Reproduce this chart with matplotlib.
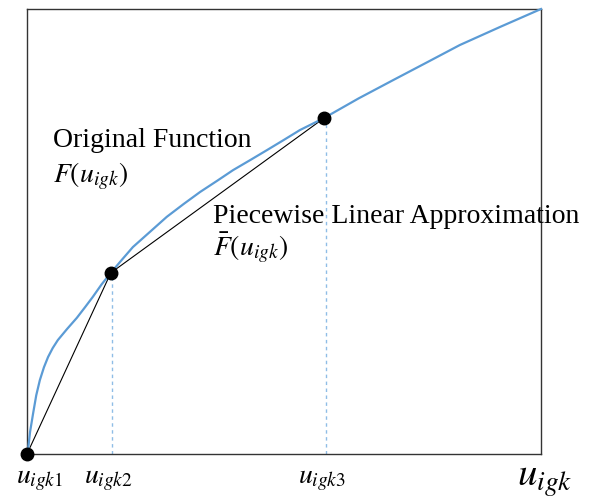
import matplotlib
matplotlib.use("Agg")
import matplotlib.pyplot as plt
from matplotlib.transforms import ScaledTranslation

plt.rcParams['mathtext.fontset'] = 'stix'

# Original function F(u) (normalized axes 0..1)
curve_x = [0.0, 0.002, 0.006, 0.012, 0.018, 0.025, 0.033, 0.041, 0.050, 0.060,
           0.078, 0.097, 0.113, 0.128, 0.145, 0.163, 0.185, 0.206, 0.240, 0.272,
           0.305, 0.337, 0.370, 0.401, 0.435, 0.467, 0.500, 0.531, 0.578, 0.645,
           0.712, 0.778, 0.842, 0.921, 1.0]
curve_y = [0.0, 0.009, 0.050, 0.092, 0.132, 0.166, 0.195, 0.218, 0.238, 0.256,
           0.281, 0.306, 0.330, 0.353, 0.381, 0.407, 0.437, 0.465, 0.500, 0.533,
           0.562, 0.589, 0.614, 0.638, 0.661, 0.683, 0.706, 0.728, 0.755, 0.799,
           0.840, 0.880, 0.919, 0.960, 1.0]

# Breakpoints of the piecewise linear approximation
break_x = [0.0, 0.163, 0.578]
break_y = [0.0, 0.407, 0.755]
break_labels = [r'$u_{igk1}$', r'$u_{igk2}$', r'$u_{igk3}$']
axis_label = r'$u_{igk}$'

fig = plt.figure(figsize=(5.9, 4.99), dpi=100)
ax = fig.add_axes([27/590, 45/499, (541-27)/590, (454-9)/499])
ax.set_xlim(0, 1)
ax.set_ylim(0, 1)

blue = '#5b9bd5'
ax.plot(curve_x, curve_y, color=blue, lw=1.6, zorder=3, clip_on=False,
        solid_joinstyle='round')
ax.plot(break_x, break_y, color='black', lw=0.8, zorder=2, clip_on=False)
for bx, by in zip(break_x[1:], break_y[1:]):
    ax.plot([bx + 0.003, bx + 0.003], [0, by], color='#8fbde6', lw=1.0,
            ls=(0, (2.5, 2.5)), zorder=1)
ax.plot(break_x, break_y, 'o', color='black', ms=9, zorder=5, clip_on=False)

ax.set_xticks([])
ax.set_yticks([])
for s in ax.spines.values():
    s.set_color('#333333')
    s.set_linewidth(1.0)

tr = ax.get_xaxis_transform()
offsets_px = [13, -2, -2]
for bx, lab, off in zip(break_x, break_labels, offsets_px):
    ax.text(bx, -0.066, lab,
            transform=tr + ScaledTranslation(off / 100, 0, fig.dpi_scale_trans),
            ha='center', va='baseline', fontsize=20, clip_on=False)
ax.text(0.953, -0.071, axis_label, transform=ax.transAxes, ha='left',
        va='baseline', fontsize=28, clip_on=False)

ax.text(0.0506, 0.690, 'Original Function', transform=ax.transAxes, ha='left',
        va='baseline', fontsize=20, family='Liberation Serif')
ax.text(0.0506, 0.611, r'$F\left(u_{igk}\right)$', transform=ax.transAxes, ha='left',
        va='baseline', fontsize=20)
ax.text(0.362, 0.520, 'Piecewise Linear Approximation', transform=ax.transAxes,
        ha='left', va='baseline', fontsize=20, family='Liberation Serif')
ax.text(0.362, 0.446, r'$\bar{F}\left(u_{igk}\right)$', transform=ax.transAxes,
        ha='left', va='baseline', fontsize=20)

fig.savefig('out.png', dpi=100)
